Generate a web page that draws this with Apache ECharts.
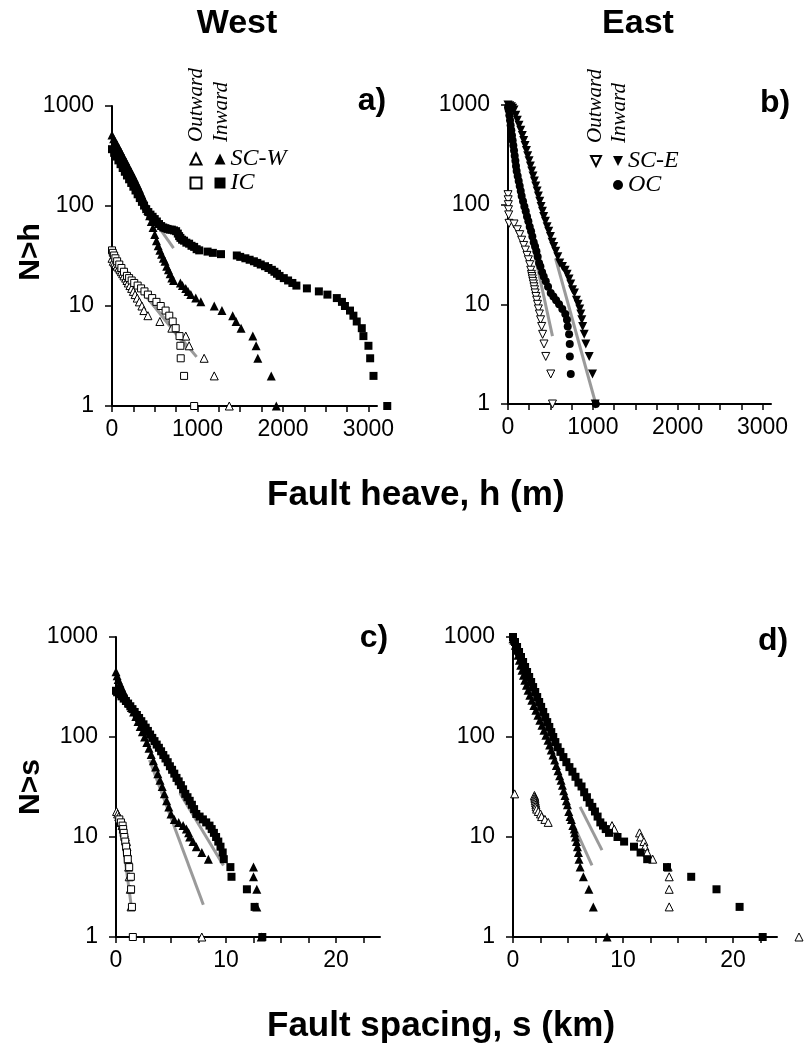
<!DOCTYPE html>
<html><head><meta charset="utf-8">
<script src="https://cdn.jsdelivr.net/npm/echarts@6/dist/echarts.min.js"></script>
<style>html,body{margin:0;padding:0;background:#fff}#c{width:804px;height:1047px}</style>
</head><body><div id="c"></div>
<script>
// ---------- tick values ----------
const heaveLabels = [0, 1000, 2000, 3000];
const heaveTicks = [0, 250, 500, 750, 1000, 1250, 1500, 1750, 2000, 2250, 2500, 2750, 3000];
const spacingLabels = [0, 10, 20];
const spacingTicks = [0, 2.5, 5, 7.5, 10, 12.5, 15, 17.5, 20, 22.5];

// ---------- panel a (West, heave m, N>h) ----------
const aScwInward = [[0,513],[20,470],[40,440],[60,410],[80,380],[100,352],[120,326],[140,302],[160,280],[180,259],[200,240],[220,222],[240,205],[260,190],[280,175],[300,161],[320,148],[340,135],[360,123],[380,111],[400,100],[420,90],[440,80],[460,70],[480,61],[500,52],[520,45],[540,40],[560,36],[580,33],[600,30],[620,28],[640,25],[660,23],[680,21],[700,19],[720,18],[800,17],[824,16],[863,15],[890,14],[922,13],[980,12],[1039,11],[1196,10],[1286,9],[1412,8],[1451,7],[1510,6],[1647,5],[1686,4],[1706,3],[1863,2],[1922,1]];
const aIcInward = [[0,370],[25,340],[50,312],[75,286],[100,262],[125,240],[150,220],[175,202],[200,185],[225,170],[250,156],[275,143],[300,131],[325,120],[350,110],[375,101],[400,93],[425,87],[450,82],[475,78],[500,74],[525,70],[550,66],[575,63],[600,61],[625,60],[650,59],[675,58],[700,58],[725,57],[750,56],[770,53],[785,50],[800,48],[820,46],[843,45],[870,43],[902,42],[930,40],[961,39],[990,37],[1020,36],[1118,35],[1180,34],[1275,33],[1460,32],[1500,31],[1560,30],[1610,29],[1660,28],[1700,27],[1740,26],[1790,25],[1830,24],[1870,23],[1900,22],[1930,21],[1960,20],[2010,19],[2060,18],[2110,17],[2157,16],[2280,15],[2420,14],[2520,13],[2630,12],[2690,11],[2725,10],[2784,9],[2824,8],[2863,7],[2922,6],[2941,5],[3000,4],[3020,3],[3059,2],[3220,1]];
const aScwOutward = [[0,30],[15,28],[30,27],[45,26],[60,25],[80,24],[95,23],[110,22],[125,21],[140,20],[160,19],[175,18],[190,17],[210,16],[230,15],[250,14],[270,13],[295,12],[320,11],[350,10],[373,9],[420,8],[560,7],[700,6],[863,5],[902,4],[1078,3],[1196,2],[1372,1]];
const aIcOutward = [[0,36],[10,34],[25,32],[40,30],[60,28],[85,26],[110,24],[140,22],[175,20],[200,19],[230,18],[260,17],[300,16],[340,15],[380,14],[420,13],[470,12],[520,11],[570,10],[627,9],[670,8],[710,7],[745,6],[790,5],[800,4],[804,3],[843,2],[961,1]];
const aFitOutA = [[40,29],[990,3.1]];
const aFitOutB = [[0,34],[880,3.8]];
const aFitIc = [[300,123],[720,38]];

// ---------- panel b (East, heave m, N>h) ----------
const bSceInward = [[0,1000],[20,985],[40,960],[55,930],[71,889],[91,791],[110,704],[130,626],[150,557],[169,495],[185,441],[201,392],[217,349],[232,310],[248,276],[264,245],[280,218],[295,194],[311,173],[327,154],[343,137],[358,122],[374,108],[390,96],[406,86],[421,76],[441,68],[461,60],[480,54],[500,48],[520,42],[539,38],[563,34],[587,30],[610,26],[642,24],[673,22],[697,20],[720,18],[740,16],[760,14],[783,13],[807,11],[827,10],[846,9],[858,8],[870,7],[880,6],[898,5],[917,4],[957,3],[996,2],[1028,1]];
const bOcInward = [[0,950],[8,889],[16,791],[24,704],[31,626],[39,557],[47,495],[55,441],[63,392],[71,349],[79,310],[87,276],[94,245],[102,218],[114,194],[126,173],[138,154],[150,137],[161,122],[177,108],[193,96],[209,86],[224,76],[240,68],[256,60],[272,54],[287,48],[303,42],[319,38],[335,34],[350,30],[366,26],[382,24],[402,21],[421,19],[445,17],[472,15],[504,13],[535,12],[567,11],[602,10],[640,9],[675,8],[695,7],[704,6],[720,5],[728,4],[729,3],[740,2],[1035,1]];
const bSceOutward = [[0,126],[2,112],[4,100],[6,89],[8,79],[12,65],[71,64],[110,56],[138,50],[161,44],[185,39],[205,35],[224,31],[240,28],[256,25],[268,22],[276,20],[282,19],[287,18],[293,17],[300,16],[306,15],[313,14],[320,13],[329,12],[338,11],[348,10],[358,9],[370,8],[384,7],[397,6],[408,5],[424,4],[445,3],[504,2],[524,1]];
const bFitSceIn = [[560,29],[1035,1]];
const bFitSceOut = [[300,36],[524,4.8]];

// ---------- panel c (West, spacing km, N>s) ----------
const cScwInward = [[0,450],[0.1,410],[0.2,375],[0.35,345],[0.5,315],[0.65,290],[0.8,265],[1.0,240],[1.2,218],[1.4,197],[1.6,178],[1.8,160],[2.0,143],[2.2,127],[2.4,113],[2.6,100],[2.8,88],[3.0,77],[3.2,67],[3.4,58],[3.6,50],[3.8,43],[4.0,37],[4.2,32],[4.4,27],[4.6,23],[4.8,20],[5.0,17],[5.3,15],[5.7,14],[6.1,13],[6.4,12],[6.6,11],[6.7,10],[7.0,9],[7.3,8],[7.8,7],[8.4,6],[12.5,5],[12.5,4],[12.8,3],[12.8,2],[13.2,1]];
const cIcInward = [[0,290],[0.1,280],[0.3,268],[0.5,255],[0.7,242],[0.9,229],[1.1,216],[1.3,203],[1.5,190],[1.7,178],[1.9,166],[2.1,155],[2.3,144],[2.5,134],[2.7,124],[2.9,115],[3.1,106],[3.3,98],[3.5,91],[3.7,84],[3.9,78],[4.1,72],[4.3,66],[4.5,61],[4.7,56],[4.9,51],[5.1,47],[5.3,43],[5.5,39],[5.7,36],[5.9,33],[6.1,30],[6.3,27],[6.5,25],[6.7,23],[6.9,21],[7.1,19],[7.3,17],[7.6,16],[7.9,15],[8.2,14],[8.5,13],[8.7,12],[8.9,11],[9.1,10],[9.3,9],[9.5,8],[9.7,7],[9.8,6],[10.4,5],[10.5,4],[11.9,3],[12.6,2],[13.3,1]];
const cScwOutward = [[0.05,18],[0.15,17],[0.25,16],[0.35,15],[0.45,14],[0.55,13],[0.65,12],[0.75,11],[0.85,10],[0.95,9],[1.0,8],[1.05,7],[1.1,6],[1.15,5],[1.2,4],[1.3,3],[1.37,2],[7.8,1]];
const cIcOutward = [[0.3,15],[0.45,14],[0.6,13],[0.65,12],[0.7,11],[0.76,10],[0.84,9],[0.92,8],[1.0,7],[1.07,6],[1.2,5],[1.35,4],[1.37,3],[1.45,2],[1.53,1]];
const cFitScw = [[3.05,59],[7.94,2.1]];
const cFitIc = [[5.8,27.6],[9.77,5.2]];
const cFitOut = [[0.3,16],[1.4,2]];

// ---------- panel d (East, spacing km, N>s) ----------
const dInwardTri = [[0,960],[0.09,926],[0.21,825],[0.34,736],[0.46,656],[0.58,585],[0.7,521],[0.82,464],[0.95,414],[1.07,369],[1.22,329],[1.37,293],[1.53,261],[1.71,233],[1.89,207],[2.08,185],[2.26,165],[2.44,147],[2.63,131],[2.81,117],[2.99,104],[3.18,93],[3.33,83],[3.48,74],[3.63,66],[3.79,59],[3.94,52],[4.09,46],[4.24,41],[4.37,37],[4.49,33],[4.61,29],[4.73,26],[4.85,23],[4.95,21],[5.07,18],[5.19,16],[5.31,15],[5.44,13],[5.56,12],[5.6,11],[5.68,10],[5.77,9],[5.86,8],[5.95,7],[6.0,6],[6.1,5],[6.4,4],[6.9,3],[7.3,2],[8.55,1]];
const dInwardSq = [[0,1000],[0.18,891],[0.37,794],[0.55,708],[0.73,631],[0.92,562],[1.1,501],[1.28,447],[1.47,398],[1.65,355],[1.83,316],[2.02,282],[2.2,251],[2.38,224],[2.56,200],[2.75,178],[2.93,158],[3.11,141],[3.3,126],[3.48,112],[3.66,100],[3.85,89],[4.06,79],[4.31,71],[4.58,63],[4.85,56],[5.13,50],[5.4,45],[5.68,40],[5.95,35],[6.23,32],[6.47,28],[6.72,25],[6.96,22],[7.21,20],[7.45,18],[7.69,16],[7.94,14],[8.18,13],[8.43,12],[8.73,11],[9.5,10],[10.1,9],[11.0,8],[11.6,7],[12.2,6],[14.0,5],[16.2,4],[18.5,3],[20.6,2],[22.7,1]];
const dOutwardTri = [[0.15,27],[1.95,26],[1.98,25],[2.0,24],[2.02,23],[2.05,22],[2.08,21],[2.1,20],[2.15,19],[2.3,18],[2.5,17],[2.6,16],[2.9,15],[3.2,14],[9.0,13],[9.2,12],[11.5,11],[11.6,10],[11.9,9],[12.0,8],[12.2,7],[12.7,6],[14.1,5],[14.2,4],[14.2,3],[14.2,2],[26.0,1]];
const dFit1 = [[5.19,15.8],[7.18,5.2]];
const dFit2 = [[6.1,20],[8.09,7.4]];

const legendText = {aScwOut:'\u00a0', aIcOut:'\u00a0', aScwIn:'SC-W', aIcIn:'IC', bSceOut:'\u00a0', bSceIn:'SC-E', bOcIn:'OC'};
const downTriangleIcon = 'path://M0,0L10,0L5,10Z';

const SANS = '"Liberation Sans", Arial, Helvetica, sans-serif';
const SERIF = '"Liberation Serif", "Times New Roman", serif';

function xAxisDef(gi, max, interval, ticks, labels) {
  return {
    type: 'value', gridIndex: gi, min: 0, max: max, interval: interval,
    axisLine: {show: true, onZero: false, lineStyle: {color: '#000', width: 2}},
    axisTick: {show: true, length: 6, customValues: ticks, lineStyle: {color: '#000', width: 1.5}},
    axisLabel: {show: true, customValues: labels, margin: 12, fontSize: 23, color: '#000', fontFamily: SANS,
      formatter: function (v) { return labels.indexOf(v) >= 0 ? String(v) : ''; }},
    splitLine: {show: false}
  };
}
function yAxisDef(gi) {
  return {
    type: 'log', logBase: 10, gridIndex: gi, min: 1, max: 1000,
    axisLine: {show: true, onZero: false, lineStyle: {color: '#000', width: 2}},
    axisTick: {show: true, length: 7, lineStyle: {color: '#000', width: 1.5}},
    axisLabel: {show: true, margin: 18, fontSize: 23, color: '#000', fontFamily: SANS,
      formatter: function (v) { return String(Math.round(v)); }},
    splitLine: {show: false}, minorTick: {show: false}
  };
}
function sc(name, data, gi, symbol, size, open, rotate) {
  return {
    type: 'scatter', name: name, data: data, xAxisIndex: gi, yAxisIndex: gi,
    symbol: symbol, symbolSize: size, symbolRotate: rotate || 0, clip: false, silent: true, z: 3,
    itemStyle: open ? {color: '#fff', borderColor: '#000', borderWidth: 1, opacity: 1} : {color: '#000', opacity: 1},
    emphasis: {disabled: true}
  };
}
function fit(data, gi) {
  return {
    type: 'line', data: data, xAxisIndex: gi, yAxisIndex: gi, symbol: 'none', silent: true, z: 2,
    lineStyle: {color: '#9a9a9a', width: 3}, emphasis: {disabled: true}
  };
}
function txt(t, x, y, font, align, rot) {
  return {type: 'text', x: x, y: y, rotation: rot || 0, silent: true,
    style: {text: t, font: font, fill: '#000', align: align || 'center', verticalAlign: 'middle',
      textAlign: align || 'center', textVerticalAlign: 'middle'}};
}
const legendBase = {orient: 'vertical', itemWidth: 11, itemHeight: 11, itemGap: 0, padding: 0, selectedMode: false,
  formatter: function (n) { return legendText[n]; },
  textStyle: {fontFamily: SERIF, fontStyle: 'italic', fontSize: 24, lineHeight: 22, color: '#000'}};

const chart = echarts.init(document.getElementById('c'));
chart.setOption({
  animation: false,
  backgroundColor: '#fff',
  grid: [
    {left: 112, top: 106, width: 265, height: 300},
    {left: 508, top: 105, width: 263, height: 299},
    {left: 116, top: 637, width: 264, height: 300},
    {left: 513, top: 637, width: 264, height: 300}
  ],
  xAxis: [
    xAxisDef(0, 3100, 250, heaveTicks, heaveLabels),
    xAxisDef(1, 3100, 250, heaveTicks, heaveLabels),
    xAxisDef(2, 24, 2.5, spacingTicks, spacingLabels),
    xAxisDef(3, 24, 2.5, spacingTicks, spacingLabels)
  ],
  yAxis: [yAxisDef(0), yAxisDef(1), yAxisDef(2), yAxisDef(3)],
  legend: [
    Object.assign({}, legendBase, {data: ['aScwOut', 'aIcOut'], left: 189.5, top: 147}),
    Object.assign({}, legendBase, {data: ['aScwIn', 'aIcIn'], left: 214.5, top: 147}),
    Object.assign({}, legendBase, {data: [{name: 'bSceOut', icon: downTriangleIcon}], left: 590, top: 149, itemWidth: 10, itemHeight: 10}),
    Object.assign({}, legendBase, {data: [{name: 'bSceIn', icon: downTriangleIcon}, {name: 'bOcIn'}], left: 613, top: 149, itemWidth: 10, itemHeight: 10})
  ],
  series: [
    fit(aFitOutA, 0), fit(aFitOutB, 0), fit(aFitIc, 0),
    sc('aScwOut', aScwOutward, 0, 'triangle', 8, true),
    sc('aIcOut', aIcOutward, 0, 'rect', 7, true),
    sc('aIcIn', aIcInward, 0, 'rect', 8, false),
    sc('aScwIn', aScwInward, 0, 'triangle', 9, false),

    fit(bFitSceIn, 1), fit(bFitSceOut, 1),
    sc('bSceOut', bSceOutward, 1, 'triangle', 8, true, 180),
    sc('bOcIn', bOcInward, 1, 'circle', 8, false),
    sc('bSceIn', bSceInward, 1, 'triangle', 9, false, 180),

    fit(cFitScw, 2), fit(cFitIc, 2), fit(cFitOut, 2),
    sc('cScwOut', cScwOutward, 2, 'triangle', 8, true),
    sc('cIcOut', cIcOutward, 2, 'rect', 7, true),
    sc('cIcIn', cIcInward, 2, 'rect', 8, false),
    sc('cScwIn', cScwInward, 2, 'triangle', 9, false),

    fit(dFit1, 3), fit(dFit2, 3),
    sc('dOutTri', dOutwardTri, 3, 'triangle', 8, true),
    sc('dInSq', dInwardSq, 3, 'rect', 8, false),
    sc('dInTri', dInwardTri, 3, 'triangle', 9, false)
  ],
  graphic: [
    txt('West', 237, 24, 'bold 34px ' + SANS),
    txt('East', 638, 24, 'bold 34px ' + SANS),
    txt('Fault heave, h (m)', 267, 495, 'bold 35px ' + SANS, 'left'),
    txt('Fault spacing, s (km)', 267, 1026, 'bold 35px ' + SANS, 'left'),
    txt('N>h', 31, 252, 'bold 30px ' + SANS, 'center', Math.PI / 2),
    txt('N>s', 31, 787, 'bold 30px ' + SANS, 'center', Math.PI / 2),
    txt('a)', 372, 101, 'bold 32px ' + SANS),
    txt('b)', 775, 103, 'bold 32px ' + SANS),
    txt('c)', 374, 638, 'bold 32px ' + SANS),
    txt('d)', 773, 641, 'bold 32px ' + SANS),
    txt('Outward', 196, 142, 'italic 21px ' + SERIF, 'left', Math.PI / 2),
    txt('Inward', 221, 142, 'italic 21px ' + SERIF, 'left', Math.PI / 2),
    txt('Outward', 595, 143, 'italic 21px ' + SERIF, 'left', Math.PI / 2),
    txt('Inward', 619, 143, 'italic 21px ' + SERIF, 'left', Math.PI / 2)
  ]
});
</script>
</body></html>
